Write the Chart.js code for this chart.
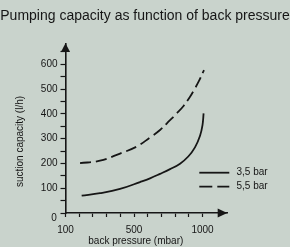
<!DOCTYPE html>
<html><head><meta charset="utf-8">
<script src="https://cdn.jsdelivr.net/npm/chart.js@4"></script>
<style>html,body{margin:0;padding:0;background:#c9d3cc;overflow:hidden}</style>
</head><body>
<canvas id="c" width="290" height="247"></canvas>
<script>
const titleText = 'Pumping capacity as function of back pressure';
const xAxisTitle = 'back pressure (mbar)';
const yAxisTitle = 'suction capacity (l/h)';
const seriesLabels = ['3,5 bar', '5,5 bar'];

const pressure35 = [118, 252, 398, 544, 617, 690, 763, 836, 896, 945, 982, 1000, 1008];
const capacity35 = [70, 80, 97, 125, 140, 158, 177, 199, 228, 265, 312, 355, 402];
const pressure55 = [106, 252, 398, 520, 617, 690, 763, 812, 860, 909, 945, 977, 1011];
const capacity55 = [201, 211, 240, 268, 305, 335, 375, 402, 431, 469, 503, 536, 577];

const xTickValues = [0, 100, 200, 300, 400, 500, 600, 700, 800, 900, 1000];
const xLabelValues = [0, 500, 1000];
const xLabelTexts = ['100', '500', '1000'];
const yTickValues = [0, 50, 100, 150, 200, 250, 300, 350, 400, 450, 500, 550, 600, 650];
const yLabelValues = [0, 100, 200, 300, 400, 500, 600];
const yLabelTexts = ['0', '100', '200', '300', '400', '500', '600'];
const xMax = 1181;
const yMax = 685;

const FONT = 'Arial';
const INK = '#161616';

const extras = {
  id: 'extras',
  afterDraw(chart) {
    const {ctx, scales: {x, y}} = chart;
    const ox = x.getPixelForValue(0), oy = y.getPixelForValue(0);
    const ty = y.getPixelForValue(yMax), tx = x.getPixelForValue(xMax);
    ctx.save();
    ctx.fillStyle = INK;
    ctx.beginPath(); ctx.moveTo(ox, ty); ctx.lineTo(ox - 4.6, ty + 8.6); ctx.lineTo(ox + 4.6, ty + 8.6); ctx.closePath(); ctx.fill();
    ctx.beginPath(); ctx.moveTo(tx, oy); ctx.lineTo(tx - 9.6, oy - 4.6); ctx.lineTo(tx - 9.6, oy + 4.6); ctx.closePath(); ctx.fill();
    ctx.font = '10px ' + FONT;
    ctx.textAlign = 'center'; ctx.textBaseline = 'middle';
    ctx.fillText(yLabelTexts[0], ox - 11.5, oy + 5.5);
    ctx.fillText(xAxisTitle, 135.8, 241.5);
    ctx.save();
    ctx.translate(20.7, 141.5); ctx.rotate(-Math.PI / 2);
    ctx.fillText(yAxisTitle, 0, 0);
    ctx.restore();
    // legend
    const dashes = [[], [13, 5]];
    chart.data.datasets.forEach((d, i) => {
      const ly = 172.7 + i * 14;
      ctx.strokeStyle = INK; ctx.lineWidth = 1.8;
      ctx.setLineDash(dashes[i]);
      ctx.beginPath(); ctx.moveTo(199.3, ly); ctx.lineTo(229.3, ly); ctx.stroke();
      ctx.setLineDash([]);
      ctx.textAlign = 'left';
      ctx.fillText(d.label, 236.5, ly);
    });
    ctx.restore();
  }
};

const mk = (xs, ys) => xs.map((v, i) => ({x: v, y: ys[i]}));

new Chart(document.getElementById('c'), {
  type: 'line',
  data: {
    datasets: [
      {label: seriesLabels[0], data: mk(pressure35, capacity35), borderColor: INK, borderWidth: 1.8, pointRadius: 0, tension: 0.4, fill: false},
      {label: seriesLabels[1], data: mk(pressure55, capacity55), borderColor: INK, borderWidth: 1.8, borderDash: [11, 5], pointRadius: 0, tension: 0.4, fill: false}
    ]
  },
  options: {
    responsive: false, animation: false,
    layout: {padding: 0},
    plugins: {
      legend: {display: false}, tooltip: {enabled: false},
      title: {display: true, text: titleText, color: INK, font: {family: FONT, size: 14, weight: 'normal'}, padding: {top: 8.1, bottom: 18.4}}
    },
    scales: {
      x: {
        type: 'linear', min: 0, max: xMax,
        afterBuildTicks: s => { s.ticks = xTickValues.map(v => ({value: v})); },
        afterFit: s => { s.height = 34; },
        ticks: {
          callback: v => { const i = xLabelValues.indexOf(v); return i < 0 ? '' : xLabelTexts[i]; },
          padding: 7, maxRotation: 0, autoSkip: false, color: INK, font: {family: FONT, size: 10}
        },
        grid: {drawOnChartArea: false, drawTicks: true, tickLength: 4, tickColor: INK, tickWidth: 1.2},
        border: {display: true, color: INK, width: 1.6}
      },
      y: {
        type: 'linear', min: 0, max: yMax,
        afterBuildTicks: s => { s.ticks = yTickValues.map(v => ({value: v})); },
        afterFit: s => { s.width = 65.5; },
        ticks: {
          callback: v => { const i = yLabelValues.indexOf(v); return i <= 0 ? '' : yLabelTexts[i]; },
          padding: 3, autoSkip: false, color: INK, font: {family: FONT, size: 10}
        },
        grid: {drawOnChartArea: false, drawTicks: true, tickLength: 5, tickColor: INK, tickWidth: 1.2},
        border: {display: true, color: INK, width: 1.6}
      },
      yRight: {
        type: 'linear', position: 'right', display: true,
        ticks: {display: false}, grid: {display: false}, border: {display: false},
        afterFit: s => { s.width = 290 - 227.3; }
      }
    }
  },
  plugins: [extras]
});
</script>
</body></html>
